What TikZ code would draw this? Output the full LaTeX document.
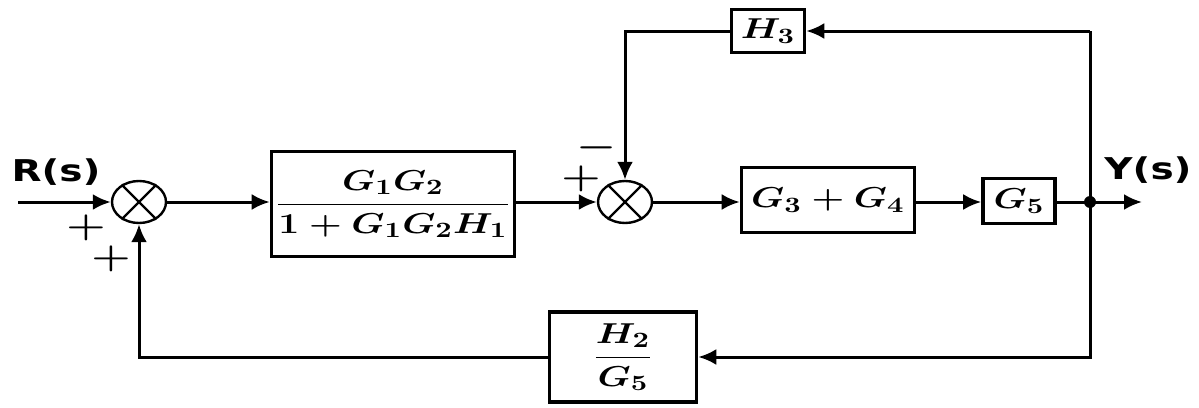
\documentclass[tikz,border=0pt]{standalone}
\usepackage{fontspec}
\usepackage{amsmath}
\usepackage{graphicx}
\newfontfamily\lblfont{DejaVu Sans}
\usetikzlibrary{shapes.geometric,arrows.meta}
\newcommand\wid[1]{\scalebox{1.3}[1]{#1}}
\begin{document}
\begin{tikzpicture}[x=0.5pt,y=-0.5pt,
  line width=1.5pt,
  arr/.style={-{Latex[length=9pt,width=8pt]}},
  blk/.style={draw,line width=1.8pt,inner sep=0pt,font=\fontsize{15}{17}\selectfont\boldmath},
  sumj/.style={draw,ellipse,line width=1.2pt,minimum width=27pt,minimum height=21pt,inner sep=0pt},
  sgn/.style={font=\fontsize{18}{20}\selectfont\boldmath,inner sep=0pt},
  io/.style={font=\lblfont\bfseries\fontsize{15}{17}\selectfont,inner sep=0pt}]
\useasboundingbox (0,0) rectangle (1199,407);
% summing junctions
\node[sumj] (s1) at (139,202) {};
\draw[line width=1.2pt] (s1.45)--(s1.225) (s1.135)--(s1.315);
\node[sumj] (s2) at (625,202) {};
\draw[line width=1.2pt] (s2.45)--(s2.225) (s2.135)--(s2.315);
% blocks
\node[blk,minimum width=121.5pt,minimum height=52.5pt] (b1) at (393,204) {\wid{$\dfrac{G_1G_2}{1+G_1G_2H_1}$}};
\node[blk,minimum width=86.5pt,minimum height=32.5pt] (b2) at (828,200) {\wid{$G_3+G_4$}};
\node[blk,minimum width=36pt,minimum height=22.5pt] (b3) at (1019,201) {\wid{$G_5$}};
\node[blk,minimum width=36.5pt,minimum height=21.5pt] (h3) at (768,31) {\wid{$H_3$}};
\node[blk,minimum width=73.5pt,minimum height=45pt] (h2) at (623,357) {\wid{$\dfrac{H_2}{G_5}$}};
% coordinates
\coordinate (in) at (18,202);
\coordinate (j) at (1090,202);
\coordinate (out) at (1142,202);
\coordinate (tr) at (1090,31);
\coordinate (br) at (1090,357);
\coordinate (bl) at (139,357);
\coordinate (tl) at (625,31);
% labels
\node[io] (rs) at (56,172) {\wid{R(s)}};
\node[io] (ys) at (1148,170) {\wid{Y(s)}};
\node[sgn] (p1) at (86,228) {\wid{$+$}};
\node[sgn] (p2) at (111,259) {\wid{$+$}};
\node[sgn] (m3) at (597,148) {\wid{$-$}};
\node[sgn] (p4) at (581,179) {\wid{$+$}};
% connectors
\draw[arr] (in) -- (s1.west);
\draw[arr] (s1.east) -- (b1.west |- s1.east);
\draw[arr] (b1.east |- s2.west) -- (s2.west);
\draw[arr] (s2.east) -- (b2.west |- s2.east);
\draw[arr] (b2.east |- s2.east) -- (b3.west |- s2.east);
\draw (b3.east |- j) -- (j);
\draw[arr] (j) -- (out);
\fill (j) circle (3pt);
\draw[arr] (tr) |- (br) -- (h2.east);
\draw[arr] (tr) -- (h3.east);
\draw[arr] (h3.west) -- (tl) -- (s2.north);
\draw[arr] (h2.west) -- (bl) -- (s1.south);
\end{tikzpicture}
\end{document}
